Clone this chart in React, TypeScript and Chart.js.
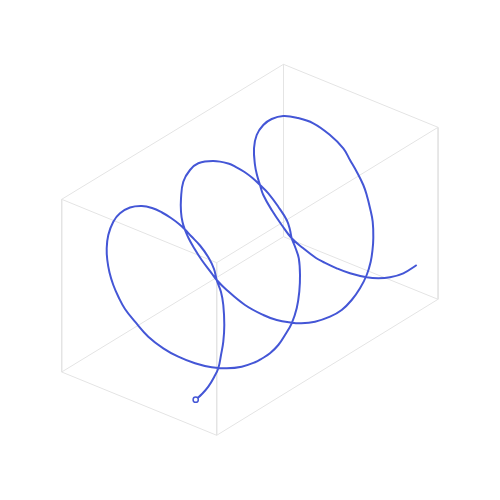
import React, { useEffect, useRef } from "react";
import { Chart, registerables } from "chart.js";

Chart.register(...registerables);

// Helix traced in view-plane units (x to the right, y downward), start -> end
const helixX = [
  195.7, 201.7, 208.3, 214.3, 218.3, 221, 223.3, 224.3, 223.3, 221, 216.7,
  214, 208.5, 200, 191, 185, 179, 171, 162, 152, 141.7, 130, 120, 113.3, 108.3,
  106.7, 107.3, 109.5, 113.3, 118.5, 125, 135, 148.3, 163.3, 178.3, 195, 211.7,
  226.7, 241.7, 255, 262, 270, 278.3, 285, 291.7, 296.7, 299.3, 300, 298.8, 295.5,
  291.7, 290, 286.7, 278.3, 268.3, 260, 252.5, 244.5, 236.5, 228.3, 213.3, 198.3,
  190, 183.3, 181, 181, 182.5, 185, 188.5, 193.3, 201.7, 211.7, 216.7, 226.7, 245,
  263.3, 276.7, 291.7, 300, 315, 330, 341.7, 351.7, 360, 366.7, 370.7, 372.5,
  373.3, 372.7, 370, 366.7, 363.3, 356.7, 350, 343.3, 330, 313.3, 296.7, 283.3,
  271.7, 263.3, 256.7, 254, 255, 257, 260, 263.3, 271.7, 281.7, 291.7, 303.3,
  316, 323.3, 336.7, 350, 366.7, 378.3, 390, 403.3, 416.7,
];
const helixY = [
  399.7, 394.3, 386.7, 376.7, 368.3, 355, 341.7, 325, 305, 292, 280,
  269, 257.5, 245.5, 236, 229.5, 224, 218, 212.5, 208, 206, 207.5, 213.3, 221.7, 235,
  248.3, 260, 272.5, 285, 297, 309, 321.7, 336.7, 348.3, 356.7, 363.3, 367.3,
  368.3, 366.7, 362.3, 358.5, 353.3, 345, 335, 323.3, 308.3, 291.7, 275, 258.3, 248,
  238.3, 230, 220, 206.7, 193.3, 185, 178, 172, 167.3, 163.5, 161, 163.3,
  170, 181.7, 198.3, 211.7, 222, 230, 238, 246.7, 260, 273.3, 280, 290, 305,
  315, 320, 322.7, 323.3, 321.7, 316.7, 310, 300, 288.3, 275, 261.7, 250,
  238.3, 221.7, 208, 195, 185, 171.7, 160, 148.3, 135, 123.3, 117.7, 116,
  119, 125, 135, 148.3, 165, 175, 185, 195, 210, 225, 238.3, 248.3,
  258, 262, 268.3, 273.3, 277.3, 278.3, 277.3, 273.3, 265,
];

// Bounding box corners in view-plane units: top face A B D C, bottom face E F H G
const cornerNames = ["A", "B", "C", "D", "E", "F", "G", "H"];
const cornerX = [283.5, 438, 61.7, 216.7, 283.5, 438, 61.7, 216.7];
const cornerY = [64.3, 127.3, 199.3, 262.7, 236.7, 299.3, 372, 435.3];
const boxEdges = [
  ["A", "B"], ["A", "C"], ["B", "D"], ["C", "D"],
  ["E", "F"], ["E", "G"], ["F", "H"], ["G", "H"],
  ["A", "E"], ["B", "F"], ["C", "G"], ["D", "H"],
];

const HELIX_COLOR = "#4456d6";
const BOX_COLOR = "#e4e4e4";

export default function App() {
  const canvasRef = useRef<HTMLCanvasElement | null>(null);

  useEffect(() => {
    const canvas = canvasRef.current;
    if (!canvas) return;

    const corner = (n: string) => {
      const i = cornerNames.indexOf(n);
      return { x: cornerX[i], y: cornerY[i] };
    };
    const edgeData: any[] = [];
    boxEdges.forEach(([a, b], i) => {
      if (i > 0) edgeData.push({ x: NaN, y: NaN });
      edgeData.push(corner(a), corner(b));
    });

    const helixData = helixX.map((x, i) => ({ x, y: helixY[i] }));

    const chart = new Chart(canvas, {
      type: "scatter",
      data: {
        datasets: [
          {
            data: helixData,
            showLine: true,
            borderColor: HELIX_COLOR,
            borderWidth: 2,
            tension: 0.4,
            pointRadius: (ctx: any) => (ctx.dataIndex === 0 ? 2.6 : 0),
            pointBackgroundColor: "#ffffff",
            pointBorderColor: HELIX_COLOR,
            pointBorderWidth: 1.5,
            pointHoverRadius: 0,
          } as any,
          {
            data: edgeData,
            showLine: true,
            spanGaps: false,
            borderColor: BOX_COLOR,
            borderWidth: 1,
            pointRadius: 0,
            tension: 0,
          } as any,
        ],
      },
      options: {
        responsive: false,
        animation: false,
        layout: { padding: 0, autoPadding: false },
        plugins: {
          legend: { display: false },
          tooltip: { enabled: false },
          title: { display: false },
        },
        scales: {
          x: { type: "linear", min: 0, max: 500, display: false },
          y: { type: "linear", min: 0, max: 500, reverse: true, display: false },
        },
      },
    });

    return () => chart.destroy();
  }, []);

  return (
    <div style={{ position: "absolute", left: 0, top: 0, width: 500, height: 500, background: "#ffffff" }}>
      <canvas ref={canvasRef} width={500} height={500} style={{ display: "block" }} />
    </div>
  );
}
